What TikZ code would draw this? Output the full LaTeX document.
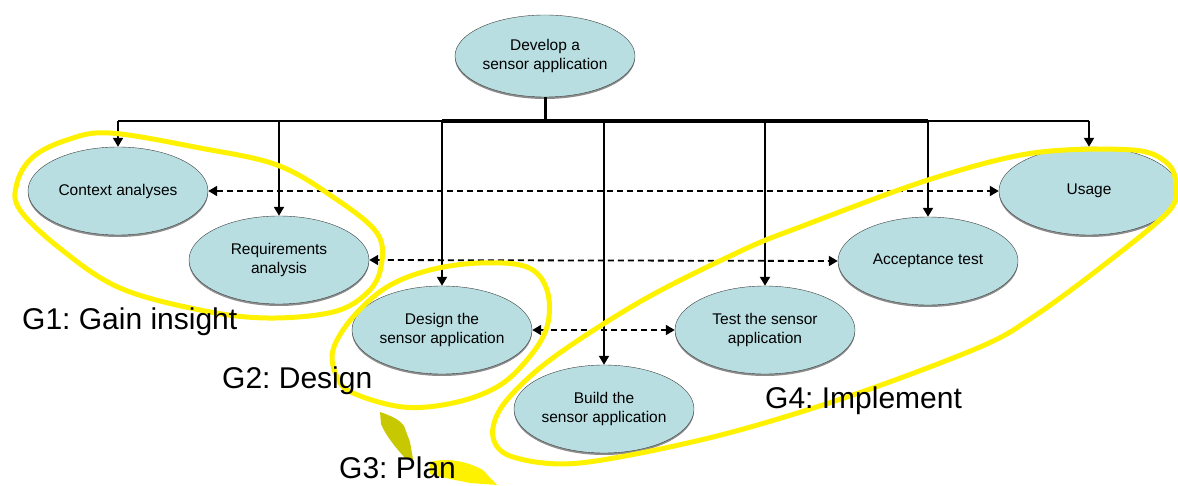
\documentclass[tikz,border=0pt]{standalone}
\usepackage{fontspec}
\setmainfont{Liberation Sans}
\usetikzlibrary{shapes.geometric}
\usetikzlibrary{arrows.meta}
\usetikzlibrary{shadows}
\definecolor{taskblue}{RGB}{184,222,226}
\definecolor{planolive}{RGB}{200,200,0}
\frenchspacing

\begin{document}
\begin{tikzpicture}[x=1pt,y=-1pt,
  task/.style={ellipse, draw=black!75, fill=taskblue, minimum width=180pt, minimum height=88pt, inner sep=0pt, align=center,
    font=\fontsize{15.5}{18.5}\selectfont, drop shadow={shadow xshift=0pt, shadow yshift=-2pt, fill=black!45, opacity=1}},
  down/.style={line width=2pt, -{Triangle[width=10pt,length=9pt]}},
  link/.style={line width=1.8pt, dash pattern=on 6pt off 4pt, {Triangle[width=10pt,length=9pt]}-{Triangle[width=10pt,length=9pt]}},
  group/.style={draw=yellow, line width=5pt},
  goal/.style={font=\fontsize{30}{36}\selectfont, anchor=base west, inner sep=0pt}]

\useasboundingbox (0,0) rectangle (1178,486);

% the tasks
\node (dev) [task, minimum height=82pt] at (545,56) {Develop a\\sensor application};
\node (context) [task] at (118,191) {Context analyses};
\node (req) [task] at (279,260) {Requirements\\analysis};
\node (design) [task] at (442,330) {Design the\\sensor application};
\node (build) [task] at (604,409) {Build the\\sensor application};
\node (test) [task] at (765,330) {Test the sensor\\application};
\node (accept) [task] at (928,261) {Acceptance test};
\node (usage) [task] at (1089,191) {Usage};

% the tree
\coordinate (bus) at (545,121);
\draw [line width=3pt] (dev.south) -- (dev.south |- bus);
\draw [line width=1.8pt] (context.north |- bus) -- (design.north |- bus);
\draw [line width=4pt] (design.north |- bus) -- (accept.north |- bus);
\draw [line width=1.8pt] (accept.north |- bus) -- (usage.north |- bus);
\foreach \n in {context,req,design,build,test,accept,usage}
  \draw [down] (\n.north |- bus) -- (\n.north);

% pairs
\draw [link] (context.east) -- (usage.west);
\draw [link] (req.east) -- (accept.west);
\draw [link] (design.east) -- (test.west);

% the groups
\draw [group] plot [smooth cycle, tension=0.6] coordinates {(110,133) (200,148) (277,165) (333,197) (377,233) (381,267)
  (367,293) (333,312) (267,318) (200,310) (120,288) (62,250) (20,210) (17,183) (33,157) (67,140)};
\draw [group] plot [smooth cycle, tension=0.6] coordinates {(480,263) (430,270) (387,287) (353,317) (333,350) (337,377)
  (353,393) (403,407) (453,403) (497,387) (527,360) (547,327) (547,290) (527,267)};
\draw [group] plot [smooth cycle, tension=0.55] coordinates {(493,437) (503,405) (550,360) (643,300) (743,250) (800,227)
  (928,180) (1033,153) (1133,150) (1167,163) (1176,185) (1168,212) (1100,268) (1033,317) (980,347) (847,397) (713,437)
  (580,463) (513,457)};

% the plan arrow
\fill [planolive] (380,412) .. controls (392,416) and (400,420) .. (404,426) -- (410,442) -- (413,459)
  -- (405,458) .. controls (396,448) and (386,436) .. (381,424) -- cycle;
\fill [yellow] (430,462) .. controls (445,458) and (465,460) .. (483,470) -- (497,485) -- (470,483)
  .. controls (455,480) and (440,477) .. (430,474) -- cycle;

% the goals
\node (g1) [goal] at (22,330) {G1: Gain insight};
\node (g2) [goal] at (222,388) {G2: Design};
\node (g3) [goal] at (339,478) {G3: Plan};
\node (g4) [goal] at (765,408) {G4: Implement};
\end{tikzpicture}
\end{document}
